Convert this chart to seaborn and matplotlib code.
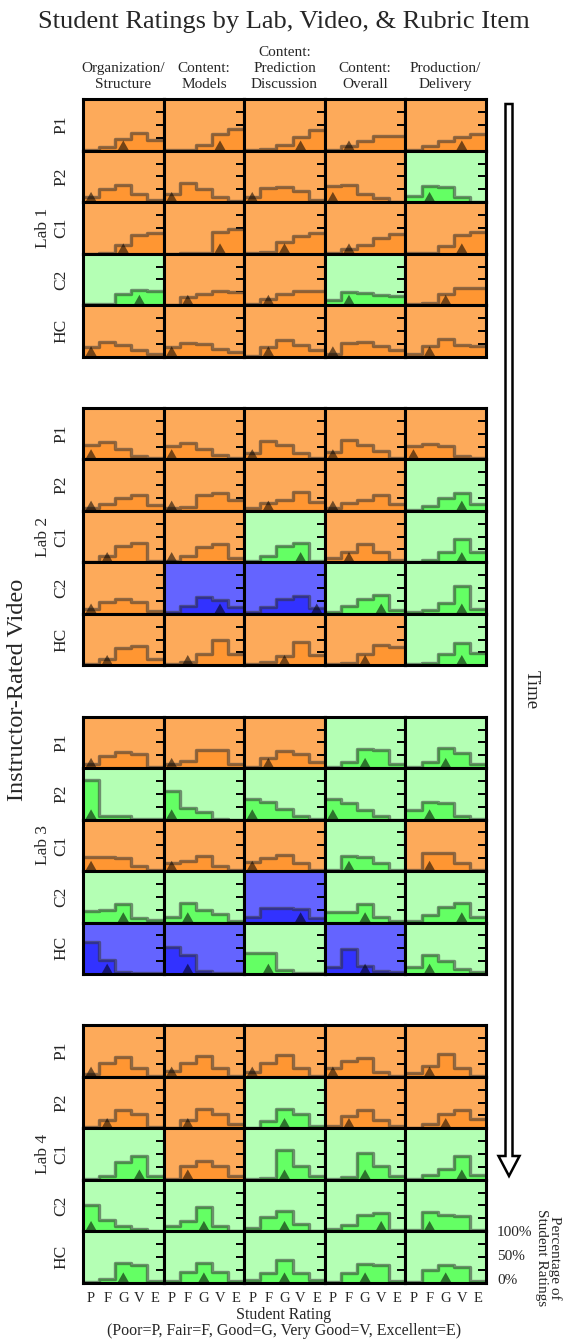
"""Small-multiples chart of student ratings per lab, video and rubric item."""

import numpy as np
import seaborn as sns
import matplotlib.pyplot as plt
from matplotlib.patches import FancyArrow, Polygon

labs = ["Lab 1", "Lab 2", "Lab 3", "Lab 4"]
videos = ["P1", "P2", "C1", "C2", "HC"]
items = [
    "Organization/\nStructure",
    "Content:\nModels",
    "Content:\nPrediction\nDiscussion",
    "Content:\nOverall",
    "Production/\nDelivery",
]
ratings = ["P", "F", "G", "V", "E"]

# share of student ratings P..E, one list per video (rows) and rubric item (cols)
lab1_share = [
    [[.02, .07, .23, .35, .21], [.01, .02, .12, .32, .42], [.01, .04, .12, .27, .40], [.01, .10, .19, .29, .29], [.01, .10, .19, .27, .32]],
    [[.10, .25, .34, .15, .05], [.15, .37, .25, .10, .03], [.11, .27, .30, .21, .05], [.32, .34, .15, .08, .01], [.13, .32, .29, .10, .01]],
    [[.00, .01, .17, .36, .41], [.00, .01, .02, .42, .47], [.01, .03, .22, .34, .40], [.02, .10, .17, .30, .38], [.01, .01, .15, .37, .42]],
    [[.02, .02, .21, .30, .28], [.01, .16, .21, .28, .25], [.02, .11, .21, .28, .28], [.10, .25, .23, .20, .17], [.02, .04, .21, .33, .33]],
    [[.19, .29, .23, .13, .04], [.18, .27, .25, .14, .08], [.02, .19, .33, .23, .13], [.04, .26, .29, .21, .13], [.05, .21, .35, .23, .21]],
]
lab2_share = [
    [[.29, .34, .21, .07, .02], [.26, .32, .21, .09, .02], [.12, .36, .29, .12, .02], [.14, .38, .29, .17, .02], [.27, .31, .27, .07, .02]],
    [[.05, .13, .25, .30, .11], [.05, .08, .30, .34, .21], [.05, .16, .22, .37, .18], [.05, .15, .22, .30, .13], [.01, .10, .25, .34, .14]],
    [[.01, .13, .32, .38, .03], [.03, .13, .29, .36, .08], [.03, .13, .32, .38, .03], [.08, .21, .36, .21, .05], [.01, .05, .21, .46, .21]],
    [[.10, .23, .29, .23, .06], [.04, .16, .33, .26, .14], [.03, .14, .29, .34, .11], [.04, .16, .29, .36, .08], [.03, .08, .21, .55, .09]],
    [[.03, .12, .33, .37, .12], [.03, .07, .22, .50, .22], [.02, .06, .18, .45, .19], [.02, .04, .22, .40, .36], [.02, .04, .21, .44, .23]],
]
lab3_share = [
    [[.09, .23, .31, .28, .02], [.09, .14, .35, .36, .09], [.02, .19, .34, .28, .12], [.02, .12, .38, .35, .09], [.02, .12, .40, .29, .09]],
    [[.77, .07, .07, .02, .01], [.55, .23, .14, .02, .00], [.40, .34, .21, .07, .01], [.41, .32, .19, .07, .00], [.19, .34, .33, .07, .01]],
    [[.27, .28, .25, .09, .02], [.16, .20, .30, .09, .02], [.17, .25, .32, .16, .02], [.02, .30, .27, .16, .02], [.02, .35, .35, .16, .02]],
    [[.23, .25, .35, .09, .04], [.11, .38, .25, .16, .03], [.11, .29, .28, .27, .08], [.21, .21, .35, .11, .03], [.03, .14, .30, .37, .10]],
    [[.62, .28, .04, .01, .01], [.52, .37, .05, .01, .01], [.40, .41, .08, .02, .02], [.14, .49, .16, .05, .03], [.14, .37, .25, .10, .03]],
]
lab4_share = [
    [[.05, .27, .39, .17, .02], [.12, .26, .40, .17, .02], [.10, .27, .42, .17, .02], [.17, .31, .36, .09, .02], [.07, .21, .45, .17, .02]],
    [[.03, .17, .36, .28, .03], [.01, .17, .38, .28, .08], [.00, .15, .38, .28, .05], [.05, .24, .36, .17, .05], [.01, .08, .28, .36, .19]],
    [[.02, .07, .34, .47, .07], [.01, .26, .36, .26, .07], [.02, .04, .57, .26, .07], [.02, .05, .52, .27, .07], [.02, .09, .21, .47, .09]],
    [[.51, .21, .11, .04, .01], [.10, .20, .48, .11, .01], [.06, .27, .39, .14, .01], [.04, .13, .32, .35, .03], [.03, .37, .32, .30, .03]],
    [[.01, .07, .39, .34, .03], [.03, .21, .39, .21, .03], [.05, .19, .44, .19, .05], [.01, .19, .37, .34, .03], [.01, .24, .34, .30, .03]],
]

# instructor rating (index into ratings) per video and rubric item
lab1_instr = [[2, 3, 3, 1, 3], [0, 0, 0, 0, 1], [2, 3, 2, 1, 3], [3, 1, 1, 1, 2], [0, 0, 1, 0, 1]]
lab2_instr = [[0, 0, 0, 0, 0], [0, 0, 1, 0, 3], [1, 0, 3, 1, 3], [0, 3, 4, 3, 3], [1, 1, 2, 2, 3]]
lab3_instr = [[0, 0, 1, 2, 2], [0, 0, 0, 0, 1], [0, 0, 0, 1, 1], [2, 1, 3, 2, 3], [1, 1, 1, 2, 1]]
lab4_instr = [[0, 0, 0, 0, 1], [1, 1, 2, 1, 2], [3, 1, 2, 2, 3], [0, 2, 2, 3, 1], [2, 2, 2, 2, 2]]

# students vs instructor: H = students higher, M = match, L = students lower
lab1_cmp = ["HHHHH", "HHHHM", "HHHHH", "MHHMH", "HHHHH"]
lab2_cmp = ["HHHHH", "HHHHM", "HHMHM", "HLLMM", "HHHHM"]
lab3_cmp = ["HHHMM", "MMMMM", "HHHMH", "MMLMM", "LLMLM"]
lab4_cmp = ["HHHHH", "HHMHH", "MHMMM", "MMMMM", "MMMMM"]

all_share = [lab1_share, lab2_share, lab3_share, lab4_share]
all_instr = [lab1_instr, lab2_instr, lab3_instr, lab4_instr]
all_cmp = [lab1_cmp, lab2_cmp, lab3_cmp, lab4_cmp]

palette = {
    "H": ("#FDAA5A", "#FF9632"),
    "M": ("#B4FFB4", "#64FF64"),
    "L": ("#6464FF", "#3232FF"),
}

sns.set_style("white")
plt.rcParams["font.family"] = ["Liberation Serif", "DejaVu Serif"]

W, H = 568, 1339
fig = plt.figure(figsize=(W / 100, H / 100), dpi=100)

# overlay in pixel units for all the loose text
ov = fig.add_axes([0, 0, 1, 1], zorder=-1)
ov.set_xlim(0, W)
ov.set_ylim(H, 0)
ov.axis("off")

x0, y0 = 83.0, 99.3
cw, rh = 80.6, 51.45
edges = np.arange(6)
centers = np.arange(5) + 0.5

for li, lab in enumerate(labs):
    for ri, video in enumerate(videos):
        top = y0 + (li * 6 + ri) * rh
        for ci in range(len(items)):
            left = x0 + ci * cw
            ax = fig.add_axes([left / W, 1 - (top + rh) / H, cw / W, rh / H])
            vals = list(all_share[li][ri][ci])
            steps = vals + [vals[-1]]
            bg, fill = palette[all_cmp[li][ri][ci]]
            ax.set_facecolor(bg)

            ax.fill_between(edges, 0, steps, step="post", color=fill, linewidth=0, zorder=1)
            sns.lineplot(x=edges, y=steps, drawstyle="steps-post", color="#333333",
                         alpha=0.55, linewidth=2.4, legend=False, ax=ax, zorder=2)

            pos = all_instr[li][ri][ci] + 0.5
            ax.add_patch(Polygon([(pos - 0.36, 0), (pos + 0.36, 0), (pos, 0.2)],
                                 closed=True, facecolor="black", alpha=0.55,
                                 edgecolor="none", zorder=2.4))

            ax.set_xlim(0, 5)
            ax.set_ylim(0, 1)
            ax.set_xlabel("")
            ax.set_ylabel("")
            ax.set_yticks([0.25, 0.5, 0.75])
            ax.yaxis.tick_right()
            ax.tick_params(axis="y", direction="in", length=6, width=1.4,
                           color="black", labelright=False, labelleft=False)
            ax.set_xticks(centers)
            if li == len(labs) - 1 and ri == len(videos) - 1:
                ax.set_xticklabels(ratings, fontsize=10.5)
                ax.tick_params(axis="x", length=0, pad=7)
            else:
                ax.tick_params(axis="x", length=0, labelbottom=False)
            for sp in ax.spines.values():
                sp.set_color("black")
                sp.set_linewidth(2.2)

        ov.text(61, top + rh / 2, video, rotation=90, ha="center", va="center", fontsize=12.5)
        if video == "C1":
            ov.text(43, top + rh / 2, lab, rotation=90, ha="center", va="center", fontsize=12.5)

ov.text(W / 2, 22, "Student Ratings by Lab, Video, & Rubric Item",
        ha="center", va="center", fontsize=19)
for ci, item in enumerate(items):
    ov.text(x0 + cw * (ci + 0.5), 91, item, ha="center", va="bottom",
            fontsize=11, linespacing=1.3)

ov.text(18, 690, "Instructor-Rated Video", rotation=90, ha="center", va="center", fontsize=17.5)

ov.add_patch(FancyArrow(509, 104, 0, 1072, width=7, head_width=21, head_length=20,
                        length_includes_head=True, facecolor="white",
                        edgecolor="black", linewidth=1.8))
ov.text(531, 690, "Time", rotation=-90, ha="center", va="center", fontsize=13.5)

ov.text(284, 1315, "Student Rating", ha="center", va="center", fontsize=11.5)
ov.text(284, 1331, "(Poor=P, Fair=F, Good=G, Very Good=V, Excellent=E)",
        ha="center", va="center", fontsize=11.5)

for label, yy in [("100%", 1232), ("50%", 1256), ("0%", 1280)]:
    ov.text(497, yy, label, ha="left", va="center", fontsize=11)
ov.text(548, 1258, "Percentage of\nStudent Ratings", rotation=-90,
        ha="center", va="center", fontsize=11, linespacing=1.0)

fig.savefig("out.png", dpi=100)
